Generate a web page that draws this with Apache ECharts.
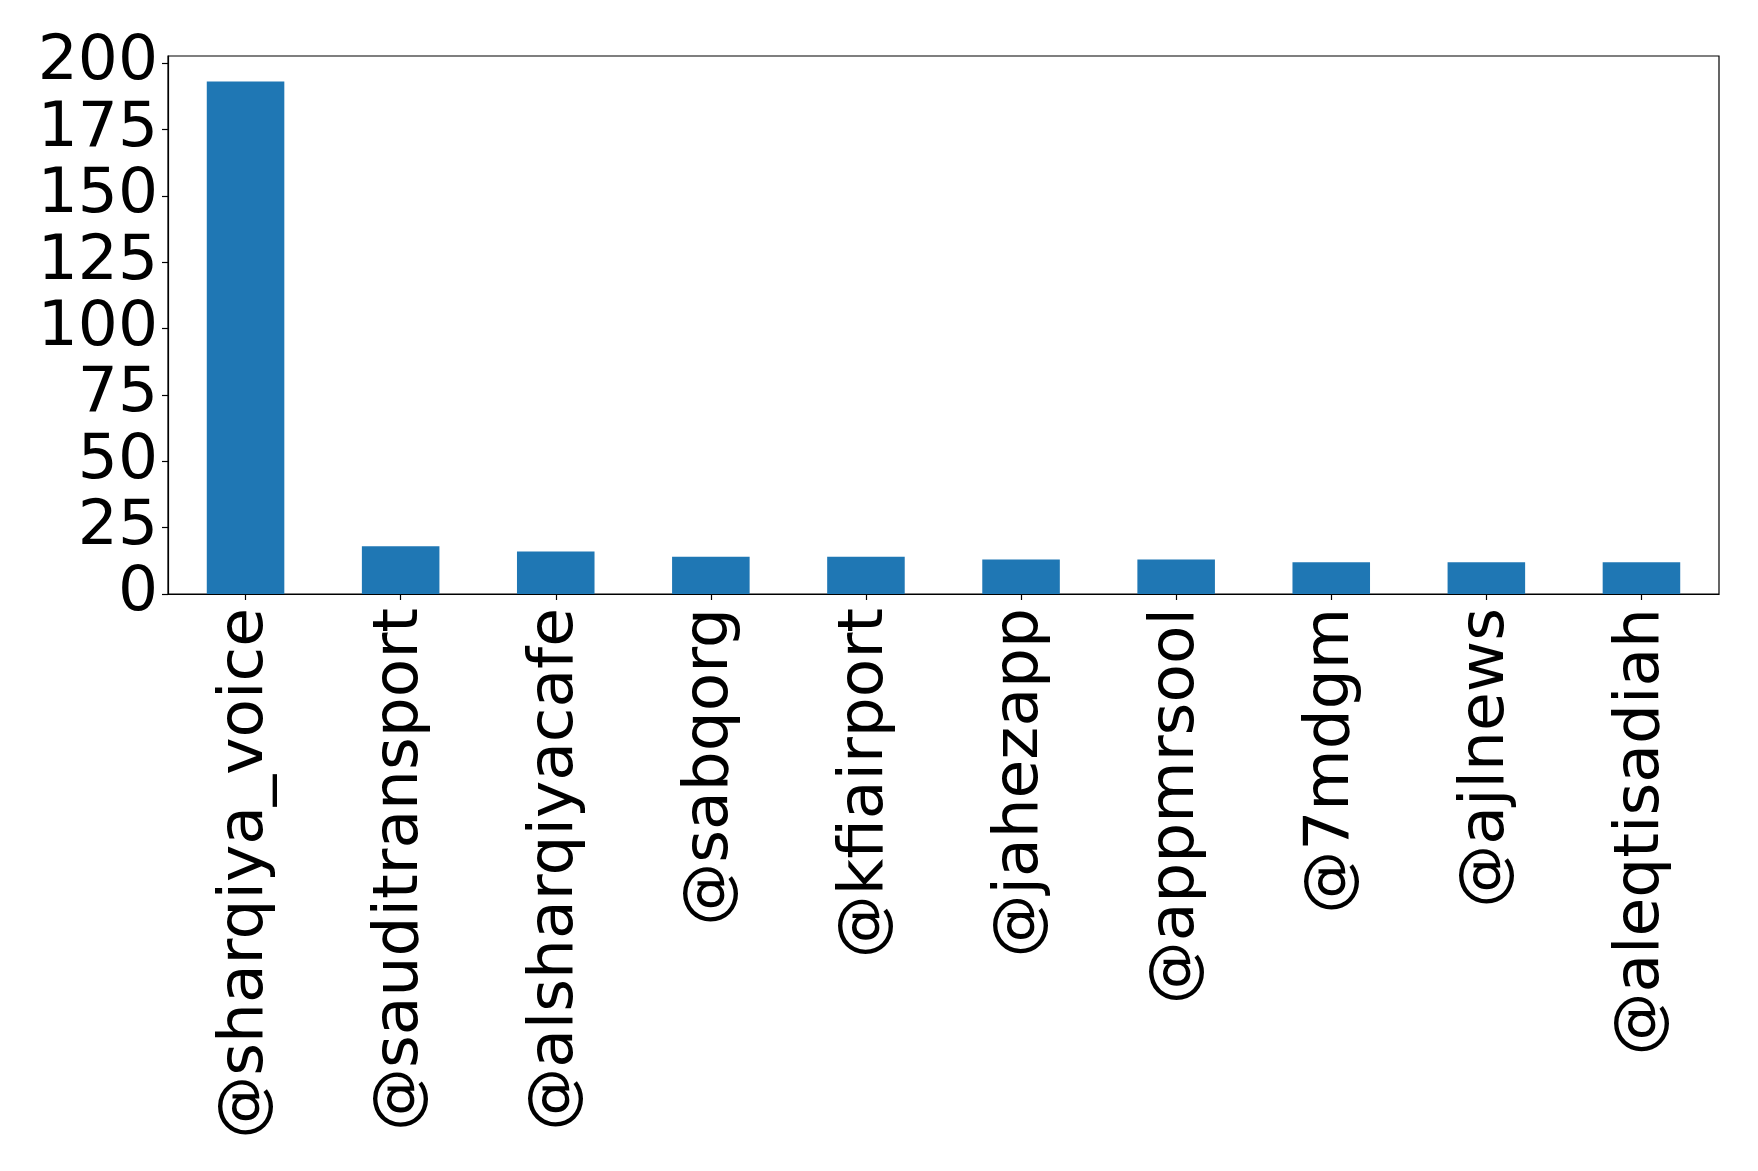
<!DOCTYPE html>
<html>
<head>
<meta charset="utf-8">
<script src="https://cdn.jsdelivr.net/npm/echarts@6/dist/echarts.min.js"></script>
<style>html,body{margin:0;padding:0;background:#fff;}#c{width:1758px;height:1171px;}</style>
</head>
<body>
<div id="c"></div>
<script>
const categories = ["@sharqiya_voice","@sauditransport","@alsharqiyacafe","@sabqorg","@kfiairport","@jahezapp","@appmrsool","@7mdgm","@ajlnews","@aleqtisadiah"];
const values = [193, 18, 16, 14, 14, 13, 13, 12, 12, 12];
const yTicks = [0, 25, 50, 75, 100, 125, 150, 175, 200];

const chart = echarts.init(document.getElementById('c'), null, {renderer: 'canvas'});
const font = 'DejaVu Sans';
chart.setOption({
  animation: false,
  backgroundColor: '#ffffff',
  grid: {left: 168, top: 56, right: 39, bottom: 577, show: true, borderColor: '#000', borderWidth: 1.2, backgroundColor: 'transparent'},
  xAxis: {
    type: 'category',
    data: categories,
    boundaryGap: true,
    axisLine: {show: true, lineStyle: {color: '#000', width: 1.2}},
    axisTick: {show: true, alignWithLabel: true, length: 6, lineStyle: {color: '#000', width: 1.2}},
    axisLabel: {rotate: 90, fontFamily: font, fontSize: 63, color: '#000', margin: 14, interval: 0}
  },
  yAxis: {
    type: 'value',
    min: 0,
    max: 193 * 1.05,
    interval: 25,
    splitLine: {show: false},
    axisLine: {show: true, lineStyle: {color: '#000', width: 1.2}},
    axisTick: {show: true, length: 6, lineStyle: {color: '#000', width: 1.2}},
    axisLabel: {fontFamily: font, fontSize: 63, color: '#000', margin: 10, showMaxLabel: false,
      formatter: v => (yTicks.indexOf(v) >= 0 ? String(v) : '')}
  },
  series: [{
    type: 'bar',
    data: values,
    barWidth: '50%',
    itemStyle: {color: '#1f77b4'}
  }]
});
</script>
</body>
</html>
